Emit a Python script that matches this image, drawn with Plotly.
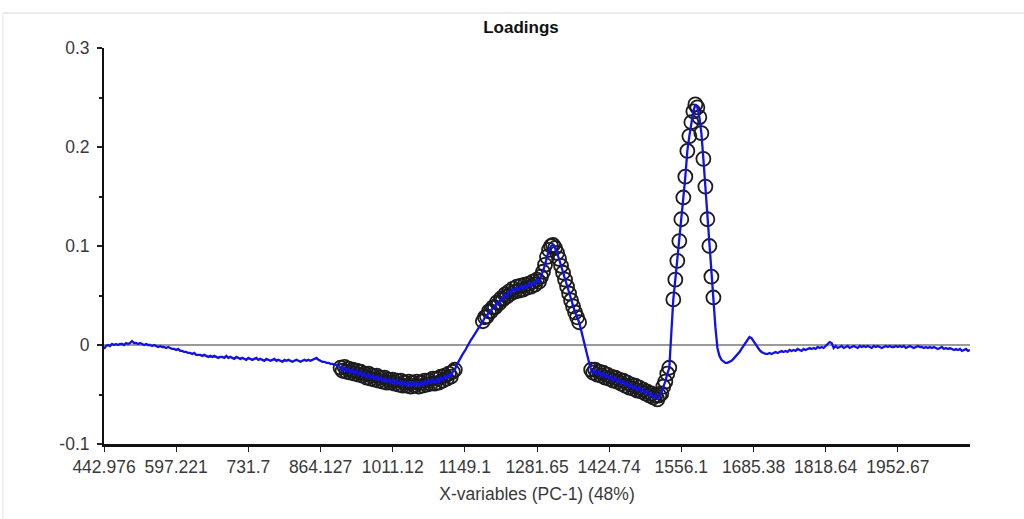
import plotly.graph_objects as go

# Wavenumber labels shown every 36 variables along the x axis
tick_labels = ["442.976", "597.221", "731.7", "864.127", "1011.12", "1149.1",
               "1281.65", "1424.74", "1556.1", "1685.38", "1818.64", "1952.67"]
vars_per_tick = 36

# PC-1 loadings, variable by variable (433 variables)
loadings_low = [
    -0.004, -0.001, 0.000, -0.001, 0.001, 0.000, 0.001, 0.000, 0.001, 0.001,
    0.000, 0.002, 0.001, 0.002, 0.004, 0.002, 0.002, 0.001, 0.002, 0.001,
    0.000, 0.001, 0.000, 0.000, -0.001, 0.000, -0.001, -0.002, -0.001, -0.002,
    -0.002, -0.003, -0.002, -0.003, -0.004, -0.004, -0.005, -0.004, -0.006, -0.006,
    -0.007, -0.007, -0.008, -0.008, -0.009, -0.008, -0.010, -0.010, -0.010, -0.011,
    -0.010, -0.011, -0.012, -0.011, -0.012, -0.011, -0.012, -0.013, -0.012, -0.012,
    -0.013, -0.011, -0.013, -0.012, -0.013, -0.014, -0.012, -0.013, -0.014, -0.013,
    -0.014, -0.015, -0.013, -0.014, -0.015, -0.014, -0.013, -0.015, -0.014, -0.015,
    -0.016, -0.014, -0.015, -0.016, -0.015, -0.014, -0.016, -0.015, -0.016, -0.017,
    -0.015, -0.016, -0.015, -0.016, -0.017, -0.016, -0.015, -0.016, -0.017, -0.016,
    -0.015, -0.016, -0.015, -0.016, -0.015, -0.014, -0.013, -0.015, -0.016, -0.017,
    -0.017, -0.018, -0.018, -0.019, -0.019, -0.020, -0.020, -0.021,
]
loadings_band1 = [
    -0.023, -0.026, -0.022, -0.027, -0.024, -0.028, -0.025, -0.029, -0.026, -0.030,
    -0.027, -0.031, -0.029, -0.033, -0.029, -0.034, -0.031, -0.035, -0.031, -0.036,
    -0.033, -0.037, -0.033, -0.038, -0.035, -0.038, -0.035, -0.039, -0.036, -0.040,
    -0.036, -0.041, -0.038, -0.041, -0.037, -0.042, -0.038, -0.041, -0.037, -0.042,
    -0.038, -0.041, -0.036, -0.040, -0.036, -0.039, -0.034, -0.039, -0.034, -0.038,
    -0.032, -0.036, -0.031, -0.034, -0.029, -0.032, -0.027, -0.025,
]
loadings_rise = [
    -0.020, -0.016, -0.012, -0.009, -0.006, -0.002, 0.001, 0.005, 0.008, 0.011,
    0.014, 0.017, 0.020,
]
loadings_band2 = [
    0.024, 0.028, 0.029, 0.034, 0.034, 0.038, 0.038, 0.043, 0.042, 0.047,
    0.046, 0.051, 0.049, 0.054, 0.052, 0.057, 0.054, 0.059, 0.055, 0.060,
    0.056, 0.061, 0.058, 0.062, 0.059, 0.064, 0.061, 0.066, 0.064, 0.069,
    0.074, 0.081, 0.089, 0.096, 0.100, 0.101, 0.098, 0.093, 0.087, 0.080,
    0.073, 0.066, 0.059, 0.052, 0.045, 0.039, 0.033, 0.028, 0.023,
]
loadings_fall = [0.015, 0.006, -0.003, -0.011, -0.018]
loadings_band3 = [
    -0.025, -0.028, -0.025, -0.030, -0.027, -0.031, -0.028, -0.033, -0.030, -0.034,
    -0.032, -0.036, -0.033, -0.037, -0.035, -0.039, -0.036, -0.041, -0.038, -0.043,
    -0.040, -0.044, -0.041, -0.046, -0.043, -0.047, -0.045, -0.049, -0.047, -0.051,
    -0.049, -0.053, -0.051, -0.055, -0.051, -0.049, -0.042, -0.037, -0.029, -0.023,
]
loadings_peak = [
    0.012, 0.046, 0.066, 0.085, 0.105, 0.127, 0.149, 0.170, 0.196, 0.211,
    0.225, 0.236, 0.243, 0.240, 0.230, 0.214, 0.188, 0.160, 0.127, 0.100,
    0.069, 0.048,
]
loadings_high = [
    0.018, -0.003, -0.011, -0.015, -0.017, -0.018, -0.018, -0.017, -0.016, -0.014,
    -0.012, -0.010, -0.007, -0.004, -0.001, 0.003, 0.006, 0.008, 0.007, 0.004,
    0.000, -0.003, -0.005, -0.007, -0.008, -0.009, -0.009, -0.008, -0.009, -0.008,
    -0.007, -0.008, -0.007, -0.006, -0.007, -0.006, -0.007, -0.005, -0.006, -0.005,
    -0.006, -0.004, -0.005, -0.006, -0.004, -0.005, -0.004, -0.003, -0.004, -0.003,
    -0.004, -0.002, -0.003, -0.002, -0.003, -0.001, 0.001, 0.003, 0.002, -0.003,
    -0.001, -0.003, -0.002, -0.001, -0.003, -0.002, -0.001, -0.003, -0.002, -0.001,
    -0.002, -0.003, -0.001, -0.002, -0.001, -0.002, -0.001, -0.002, -0.003, -0.001,
    -0.002, -0.001, -0.002, -0.003, -0.002, -0.001, -0.002, -0.001, -0.002, -0.002,
    -0.001, -0.002, -0.001, -0.002, -0.001, -0.003, -0.002, -0.001, -0.002, -0.003,
    -0.002, -0.001, -0.002, -0.002, -0.003, -0.002, -0.003, -0.002, -0.003, -0.002,
    -0.003, -0.004, -0.003, -0.002, -0.004, -0.003, -0.004, -0.003, -0.004, -0.005,
    -0.004, -0.005, -0.004, -0.006, -0.005, -0.004, -0.006, -0.005,
]

loadings = (loadings_low + loadings_band1 + loadings_rise + loadings_band2
            + loadings_fall + loadings_band3 + loadings_peak + loadings_high)
variables = list(range(len(loadings)))

# Variables flagged as important: |loading| above the marking limit
mark_limit = 0.022
marked_x = [i for i, v in zip(variables, loadings) if abs(v) >= mark_limit]
marked_y = [v for v in loadings if abs(v) >= mark_limit]

tick_font = dict(family="Liberation Sans, Arial, sans-serif", size=17.5, color="#3a3a3a")

fig = go.Figure()
fig.add_trace(go.Scatter(
    x=marked_x, y=marked_y, mode="markers",
    marker=dict(symbol="circle-open", size=14, color="#1c1c1c",
                line=dict(width=1.8, color="#1c1c1c")),
    hoverinfo="skip", showlegend=False,
))
fig.add_trace(go.Scatter(
    x=variables, y=loadings, mode="lines",
    line=dict(color="#1212e6", width=2.3),
    showlegend=False,
))

fig.update_layout(
    width=1024, height=519,
    margin=dict(l=104, r=54, t=48, b=75),
    paper_bgcolor="white", plot_bgcolor="white",
    title=dict(text="<b>Loadings</b>", xref="paper", x=(521 - 104) / 866,
               xanchor="center", yref="container", y=1 - 27 / 519, yanchor="middle",
               font=dict(family="Liberation Sans, Arial, sans-serif", size=17, color="#111")),
    shapes=[
        dict(type="line", xref="paper", yref="paper",
             x0=(3 - 104) / 866, x1=(1024 - 104) / 866,
             y0=(444 - 13) / 396, y1=(444 - 13) / 396,
             line=dict(color="#e4e4e4", width=1.5)),
        dict(type="line", xref="paper", yref="paper",
             x0=(3 - 104) / 866, x1=(3 - 104) / 866,
             y0=(444 - 13) / 396, y1=(444 - 519) / 396,
             line=dict(color="#eeeeee", width=1.5)),
    ],
)

fig.update_xaxes(
    range=[0, vars_per_tick * len(tick_labels)],
    tickvals=[k * vars_per_tick for k in range(len(tick_labels))],
    ticktext=tick_labels,
    ticks="outside", ticklen=5, tickcolor="#222", tickwidth=1,
    showline=True, linecolor="#111", linewidth=3,
    showgrid=False, zeroline=False,
    tickfont=tick_font,
    title=dict(text="X-variables (PC-1) (48%)", font=tick_font, standoff=12),
)
fig.update_yaxes(
    range=[-0.1, 0.3],
    tickvals=[-0.1, 0, 0.1, 0.2, 0.3],
    ticktext=["-0.1", "0", "0.1", "0.2", "0.3"],
    ticks="outside", ticklen=5, tickcolor="#222", tickwidth=1.5,
    minor=dict(tickvals=[-0.05, 0.05, 0.15, 0.25], ticks="outside", ticklen=3,
               tickcolor="#222", tickwidth=1.5),
    showline=True, linecolor="#111", linewidth=2,
    showgrid=False,
    zeroline=True, zerolinecolor="#9a9a9a", zerolinewidth=1.5,
    tickfont=tick_font, ticklabelstandoff=4,
)

fig.write_html("out.html")
